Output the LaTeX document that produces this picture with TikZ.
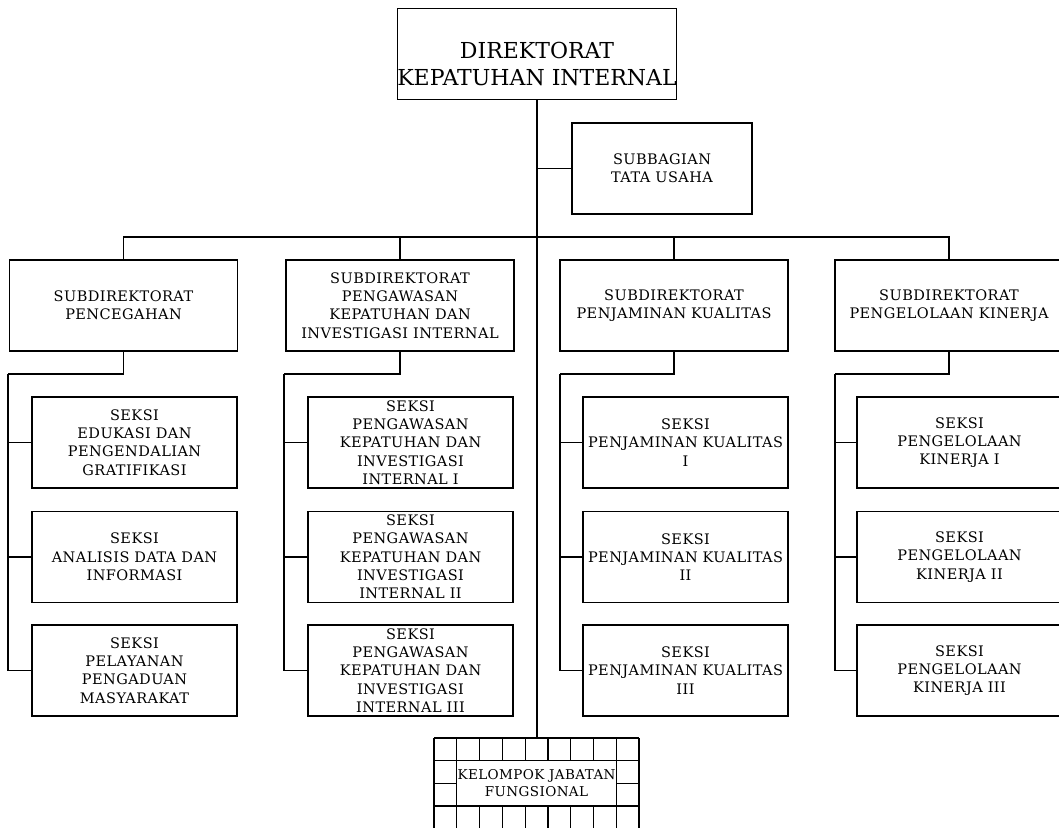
\documentclass[tikz,border=0pt]{standalone}
\usepackage{fontspec}
\setmainfont{DejaVu Serif}
\newfontfamily\orgfont[LetterSpace=3]{DejaVu Serif}
\usetikzlibrary{calc}
\newcommand\orgtext{\orgfont\fontsize{14.5}{18.3}\selectfont}
\newcommand\kfgtext{\orgfont\fontsize{13.5}{17.7}\selectfont}
\newcommand\headtext{\fontsize{22}{27}\selectfont}
\tikzset{
  unitbox/.style={draw,align=center,inner sep=0pt,minimum height=91pt},
  headbox/.style={unitbox,minimum width=279pt,font=\headtext},
  subbox/.style={unitbox,minimum width=228pt},
  seksibox/.style={unitbox,minimum width=205pt},
}
\begin{document}
\begin{tikzpicture}[x=1pt,y=-1pt,line width=1.2pt,font=\orgtext]
  \useasboundingbox (0,0) rectangle (1059,827);
  % pimpinan
  \node[headbox] (dir) at (537,54) {\rule{0pt}{36pt}DIREKTORAT\\KEPATUHAN INTERNAL};
  \node[unitbox,minimum width=180pt] (tu) at (662,168.5) {SUBBAGIAN\\TATA USAHA};
  % subdirektorat
  \node[subbox] (sub1) at (123.5,305.5) {SUBDIREKTORAT\\PENCEGAHAN};
  \node[subbox] (sub2) at (400,305.5) {SUBDIREKTORAT\\PENGAWASAN\\KEPATUHAN DAN\\INVESTIGASI INTERNAL};
  \node[subbox] (sub3) at (674,305.5) {SUBDIREKTORAT\\PENJAMINAN KUALITAS};
  \node[subbox] (sub4) at (949,305.5) {SUBDIREKTORAT\\PENGELOLAAN KINERJA};
  % seksi
  \node[seksibox] (sek11) at (134.5,442.5) {SEKSI\\EDUKASI DAN\\PENGENDALIAN\\GRATIFIKASI};
  \node[seksibox] (sek12) at (134.5,557) {SEKSI\\ANALISIS DATA DAN\\INFORMASI};
  \node[seksibox] (sek13) at (134.5,670.5) {SEKSI\\PELAYANAN\\PENGADUAN\\MASYARAKAT};
  \node[seksibox] (sek21) at (410.5,442.5) {SEKSI\\PENGAWASAN\\KEPATUHAN DAN\\INVESTIGASI\\INTERNAL I};
  \node[seksibox] (sek22) at (410.5,557) {SEKSI\\PENGAWASAN\\KEPATUHAN DAN\\INVESTIGASI\\INTERNAL II};
  \node[seksibox] (sek23) at (410.5,670.5) {SEKSI\\PENGAWASAN\\KEPATUHAN DAN\\INVESTIGASI\\INTERNAL III};
  \node[seksibox] (sek31) at (685.5,442.5) {SEKSI\\PENJAMINAN KUALITAS\\I};
  \node[seksibox] (sek32) at (685.5,557) {SEKSI\\PENJAMINAN KUALITAS\\II};
  \node[seksibox] (sek33) at (685.5,670.5) {SEKSI\\PENJAMINAN KUALITAS\\III};
  \node[seksibox] (sek41) at (959.5,442.5) {SEKSI\\PENGELOLAAN\\KINERJA I};
  \node[seksibox] (sek42) at (959.5,557) {SEKSI\\PENGELOLAAN\\KINERJA II};
  \node[seksibox] (sek43) at (959.5,670.5) {SEKSI\\PENGELOLAAN\\KINERJA III};
  % kelompok jabatan fungsional
  \foreach \i in {0,...,9}
    \draw ({434+\i*22.78},738) -- ({434+\i*22.78},830);
  \foreach \j in {0,...,4}
    \draw (434,{738+\j*22.67}) -- (639,{738+\j*22.67});
  \node[draw,fill=white,align=center,inner sep=0pt,minimum width=159.4pt,minimum height=44.7pt,font=\kfgtext]
    (kel) at (536.5,783) {KELOMPOK JABATAN\\FUNGSIONAL};
  % garis
  \coordinate (keltop) at (537,738);
  \coordinate (bus) at (537,237);
  \draw (dir.south) -- (keltop);
  \draw (tu.west) -- (tu.west -| dir.south);
  \draw (sub1.north) |- (bus) -| (sub4.north);
  \draw (sub2.north) -- (sub2.north |- bus);
  \draw (sub3.north) -- (sub3.north |- bus);
  \foreach \c/\x in {1/8,2/284,3/560,4/835}{
    \coordinate (sp\c) at (\x,374);
    \draw (sub\c.south) |- (sp\c);
    \foreach \r in {1,2,3}
      \draw (sek\c\r.west) -| (sp\c);
  }
\end{tikzpicture}
\end{document}
